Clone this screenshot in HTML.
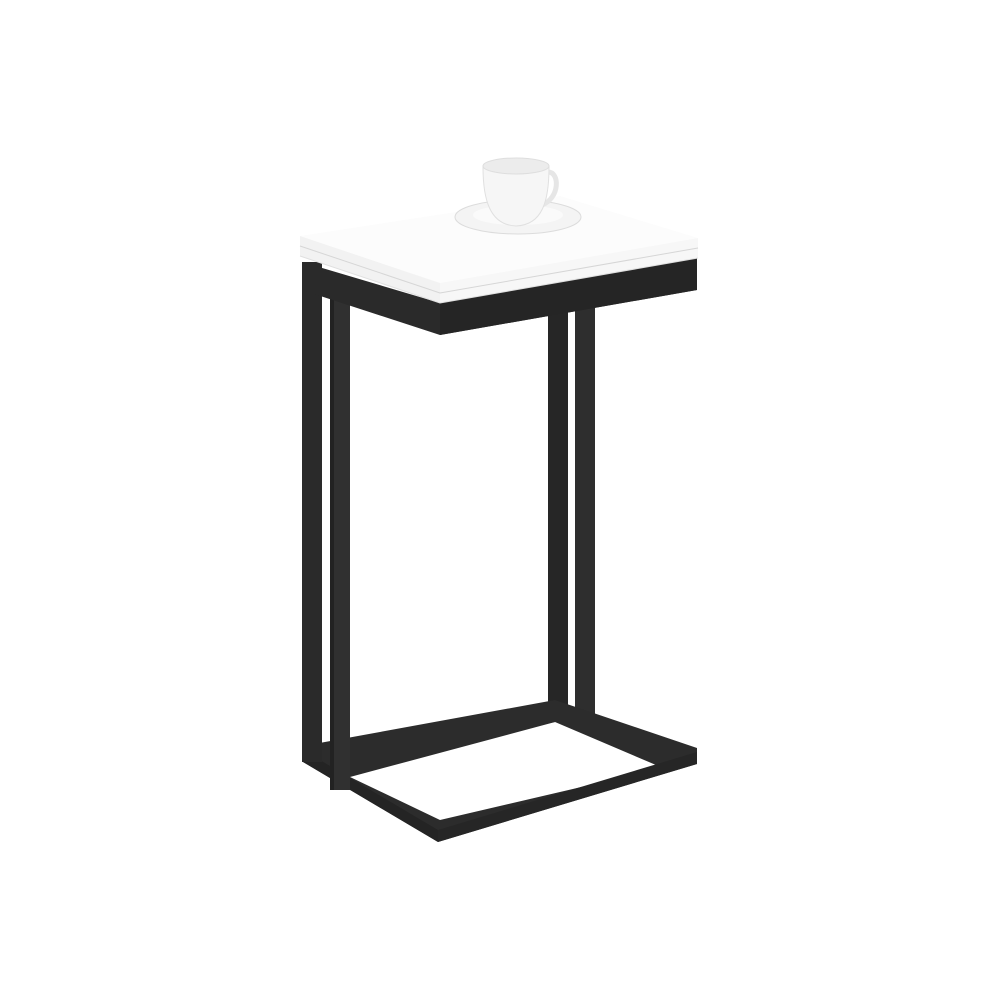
<!DOCTYPE html>
<html><head><style>html,body{margin:0;padding:0;background:#fff}svg{display:block}</style></head>
<body>
<svg width="1000" height="1000" viewBox="0 0 1000 1000" xmlns="http://www.w3.org/2000/svg">
<rect width="1000" height="1000" fill="#fff"/>
<g>
  <rect x="548" y="300" width="20" height="410" fill="#262626"/>
  <rect x="575" y="300" width="20" height="420" fill="#2e2e2e"/>
  <polygon points="350,748 555,704 555,722 350,767" fill="#2a2a2a"/>
  <path fill-rule="evenodd" fill="#2c2c2c" d="M303,746 L555,700 L697,748 L697,764 L438,842 L303,762 Z M350,777 L555,722 L663,768 L440,820 Z"/>
  <polygon points="303,750 438,830 438,842 303,762" fill="#242424"/>
  <polygon points="438,830 697,752 697,764 438,842" fill="#262626"/>
  <rect x="302" y="262" width="20" height="500" fill="#2a2a2a"/>
  <rect x="330" y="280" width="20" height="510" fill="#303030"/>
  <rect x="330" y="280" width="4" height="510" fill="#222"/>
  <polygon points="302,262 440,303 697,258 697,290 440,335 302,290" fill="#2a2a2a"/>
  <polygon points="440,303 697,258 697,290 440,335" fill="#252525"/>
</g>
<polygon points="300,236 560,196 698,238 440,283" fill="#fcfcfc"/>
<polygon points="300,236 440,283 440,303 300,256" fill="#f2f2f2"/>
<polygon points="440,283 698,238 698,258 440,303" fill="#f7f7f7"/>
<polyline points="300,246 440,293 698,248" fill="none" stroke="#d6d6d6" stroke-width="1"/>
<polyline points="300,256 440,303 698,258" fill="none" stroke="#e0e0e0" stroke-width="1"/>
<ellipse cx="518" cy="217" rx="63" ry="17" fill="#f4f4f4" stroke="#dcdcdc"/>
<ellipse cx="518" cy="215" rx="45" ry="10" fill="#fafafa"/>
<path d="M548,172 C560,172 560,198 542,205" fill="none" stroke="#e6e6e6" stroke-width="5"/>
<path d="M483,167 L549,167 C549,200 543,225 516,226 C490,225 483,200 483,167 Z" fill="#f6f6f6" stroke="#e0e0e0"/>
<ellipse cx="516" cy="166" rx="33" ry="8" fill="#ececec" stroke="#dedede"/>
</svg>
</body></html>
